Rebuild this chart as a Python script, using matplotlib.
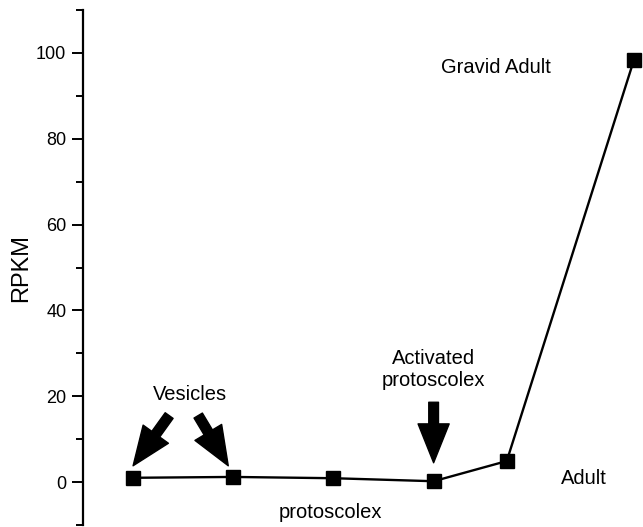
import numpy as np
import matplotlib
matplotlib.use('Agg')
from matplotlib import pyplot as plt
from matplotlib.ticker import MultipleLocator

plt.rcParams['font.family'] = ['Liberation Sans', 'DejaVu Sans']

# stages and RPKM values
stage_x = [1, 2, 3, 4, 4.73, 6]
rpkm = [1.0, 1.2, 0.9, 0.2, 4.9, 98.4]

fig = plt.figure(figsize=(6.43, 5.27), dpi=100)
ax = fig.add_axes([83/643, 2/527, 1 - 83/643, 515/527])

ax.plot(stage_x, rpkm, color='black', lw=1.7, marker='s', ms=9.5,
        mec='black', mfc='black', clip_on=False, zorder=3)

ax.set_xlim(0.5, 6.09)
ax.set_ylim(-10, 110)
for s in ['top', 'right', 'bottom']:
    ax.spines[s].set_visible(False)
ax.spines['left'].set_linewidth(1.6)
ax.set_xticks([])
ax.yaxis.set_major_locator(MultipleLocator(20))
ax.yaxis.set_minor_locator(MultipleLocator(10))
ax.tick_params(axis='y', which='major', length=8, width=1.4, labelsize=13, pad=4)
ax.tick_params(axis='y', which='minor', length=5, width=1.4)
ax.set_yticks([0, 20, 40, 60, 80, 100])
ax.set_ylabel('RPKM', fontsize=17, labelpad=3)

arrow = dict(arrowstyle='simple,head_length=2.0,head_width=1.6,tail_width=0.5',
             fc='black', ec='black', mutation_scale=14, shrinkA=0, shrinkB=0)
ax.annotate('', xy=(stage_x[0], 3.8), xytext=(1.36, 15.5), arrowprops=arrow)
ax.annotate('', xy=(1.95, 3.8), xytext=(1.65, 15.5), arrowprops=arrow)
ax.annotate('', xy=(stage_x[3], 4.5), xytext=(stage_x[3], 18.6), arrowprops=arrow)

ax.text(1.57, 20.5, 'Vesicles', fontsize=14.5, ha='center', va='center')
ax.text(4.0, 26.3, 'Activated\nprotoscolex', fontsize=14.5, ha='center', va='center',
        linespacing=1.2)
ax.text(2.97, -7.0, 'protoscolex', fontsize=14.5, ha='center', va='center')
ax.text(5.5, 0.8, 'Adult', fontsize=14.5, ha='center', va='center')
ax.text(4.62, 96.7, 'Gravid Adult', fontsize=14.5, ha='center', va='center')

fig.savefig('out.png', dpi=100)
